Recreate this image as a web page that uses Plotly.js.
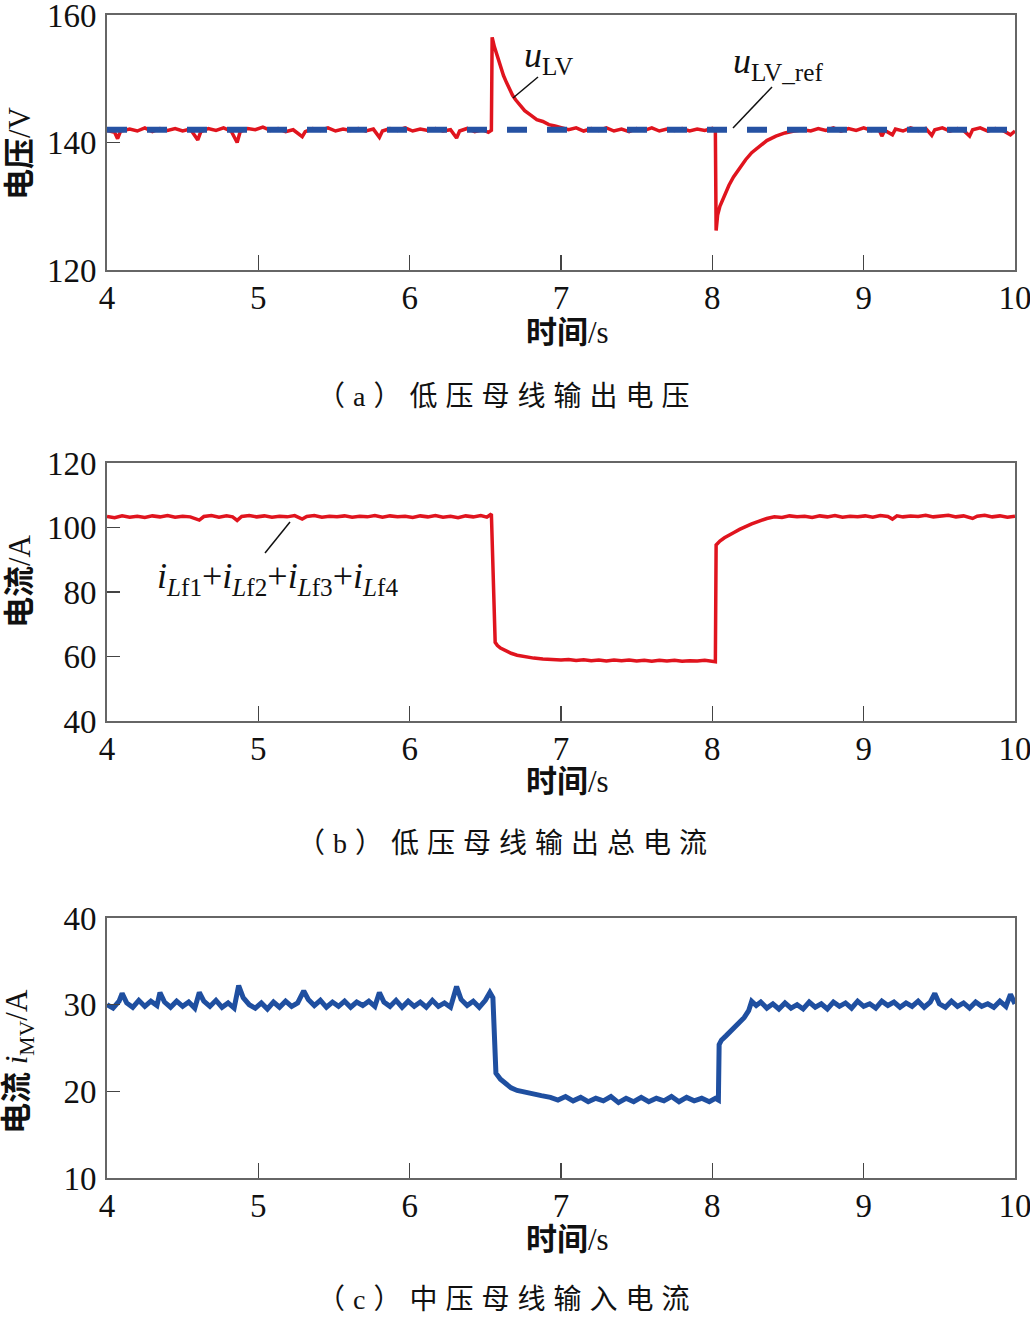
<!DOCTYPE html>
<html>
<head>
<meta charset="utf-8">
<script src="https://cdn.plot.ly/plotly-3.0.1.min.js"></script>
<style>
html,body{margin:0;padding:0;background:#fff;}
#chart{width:1030px;height:1322px;}
</style>
</head>
<body>
<div id="chart"></div>
<script>
// ---------- (a) low-voltage bus output voltage ----------
const tA = [4.00,4.05,4.07,4.09,4.15,4.20,4.25,4.30,4.35,4.40,4.45,4.50,4.55,4.60,4.62,4.67,4.72,4.77,4.82,4.86,4.88,4.93,4.98,5.03,5.08,5.13,5.18,5.23,5.29,5.31,5.36,5.41,5.46,5.51,5.56,5.61,5.66,5.71,5.76,5.80,5.82,5.87,5.92,5.97,6.02,6.07,6.12,6.17,6.22,6.27,6.31,6.33,6.38,6.43,6.48,6.52,6.54,6.545,6.56,6.58,6.60,6.62,6.64,6.66,6.68,6.70,6.73,6.76,6.80,6.84,6.88,6.92,6.96,7.00,7.05,7.10,7.15,7.20,7.25,7.30,7.35,7.40,7.45,7.50,7.55,7.60,7.65,7.70,7.75,7.80,7.85,7.90,7.95,8.00,8.02,8.025,8.035,8.05,8.08,8.11,8.14,8.18,8.22,8.26,8.31,8.36,8.42,8.48,8.54,8.60,8.65,8.70,8.75,8.80,8.85,8.90,8.95,9.00,9.05,9.10,9.12,9.14,9.19,9.21,9.26,9.31,9.36,9.41,9.45,9.47,9.52,9.57,9.62,9.66,9.70,9.72,9.77,9.82,9.87,9.92,9.97,10.00];
const uLV = [141.9,141.6,140.6,141.8,142.1,141.8,142.3,141.7,142.2,141.9,142.2,141.8,142.1,140.4,141.7,142.2,141.9,142.3,141.8,140.0,141.7,142.2,142.0,142.4,141.9,142.2,141.7,142.0,140.9,141.7,142.2,141.9,142.3,141.8,142.1,141.9,142.2,141.8,142.1,140.8,141.8,142.2,141.9,142.3,141.8,142.1,141.9,142.2,141.8,142.0,140.7,141.8,142.2,141.7,142.0,141.6,141.9,156.5,155.0,153.4,152.0,150.5,149.4,148.3,147.4,146.7,145.8,145.0,144.3,143.6,143.3,142.8,142.6,142.3,142.0,142.3,141.8,142.2,141.9,142.3,141.8,142.1,141.7,142.2,141.9,142.3,141.8,142.1,141.9,142.2,141.8,142.1,141.9,142.2,141.8,126.2,128.6,130.0,131.8,133.3,134.6,136.0,137.3,138.4,139.4,140.3,141.0,141.5,141.8,142.0,141.8,142.2,141.9,142.3,141.8,142.2,141.9,142.3,141.9,142.1,141.0,141.9,141.2,142.1,141.8,142.3,141.9,142.2,141.1,142.0,142.3,141.8,142.2,141.9,141.0,142.0,142.3,141.8,142.2,141.9,141.2,141.8];
const tRef = [4, 10];
const uRef = [142, 142];

// ---------- (b) low-voltage bus total output current ----------
const tB = [4.00,4.05,4.10,4.15,4.20,4.25,4.30,4.35,4.40,4.45,4.50,4.55,4.61,4.64,4.69,4.74,4.79,4.83,4.86,4.89,4.94,4.99,5.04,5.09,5.14,5.19,5.24,5.29,5.32,5.37,5.42,5.47,5.52,5.57,5.62,5.67,5.72,5.77,5.82,5.87,5.92,5.97,6.02,6.07,6.12,6.17,6.22,6.27,6.32,6.37,6.42,6.47,6.51,6.54,6.565,6.58,6.60,6.63,6.67,6.71,6.76,6.82,6.88,6.94,7.00,7.05,7.10,7.15,7.20,7.25,7.30,7.35,7.40,7.45,7.50,7.55,7.60,7.65,7.70,7.75,7.80,7.85,7.90,7.95,8.00,8.02,8.025,8.05,8.08,8.11,8.14,8.18,8.22,8.26,8.31,8.36,8.41,8.46,8.51,8.56,8.61,8.66,8.71,8.76,8.81,8.86,8.91,8.96,9.01,9.06,9.11,9.16,9.19,9.22,9.26,9.31,9.36,9.41,9.46,9.51,9.56,9.61,9.66,9.72,9.75,9.80,9.85,9.90,9.95,10.00];
const iSum = [103.4,103.0,103.6,103.2,103.5,103.1,103.6,103.3,103.7,103.2,103.5,103.3,102.3,103.4,103.7,103.2,103.6,103.3,102.2,103.4,103.7,103.3,103.6,103.2,103.5,103.3,103.7,102.6,103.4,103.7,103.2,103.5,103.3,103.6,103.2,103.5,103.3,103.7,103.2,103.6,103.3,103.5,103.1,103.6,103.3,103.7,103.2,103.5,103.0,103.6,103.3,103.7,103.2,104.2,64.4,63.4,62.6,61.8,61.0,60.4,59.9,59.5,59.2,59.0,58.9,59.1,58.8,59.0,58.7,58.9,58.6,58.9,58.7,58.9,58.6,58.8,58.5,58.8,58.6,58.8,58.5,58.7,58.6,58.8,58.5,58.4,94.6,95.8,96.8,97.7,98.4,99.4,100.3,101.1,102.0,102.8,103.3,103.1,103.6,103.3,103.5,103.1,103.6,103.3,103.7,103.2,103.5,103.3,103.6,103.2,103.7,103.4,102.6,103.6,103.3,103.6,103.4,103.8,103.3,103.5,103.8,103.3,103.6,102.8,103.5,103.8,103.3,103.6,103.2,103.5];

// ---------- (c) medium-voltage bus input current ----------
const tC = [4.00,4.04,4.08,4.10,4.13,4.17,4.21,4.25,4.29,4.33,4.35,4.38,4.42,4.46,4.50,4.54,4.58,4.61,4.64,4.68,4.72,4.76,4.80,4.84,4.87,4.90,4.94,4.98,5.02,5.06,5.10,5.14,5.18,5.22,5.26,5.30,5.33,5.37,5.41,5.45,5.49,5.53,5.57,5.61,5.65,5.69,5.73,5.77,5.80,5.83,5.87,5.91,5.95,5.99,6.03,6.07,6.11,6.15,6.19,6.23,6.27,6.31,6.34,6.38,6.42,6.46,6.50,6.53,6.55,6.56,6.57,6.60,6.63,6.67,6.71,6.76,6.81,6.87,6.93,6.98,7.03,7.08,7.13,7.18,7.23,7.28,7.33,7.38,7.43,7.48,7.53,7.58,7.63,7.68,7.73,7.78,7.83,7.88,7.93,7.98,8.02,8.04,8.045,8.06,8.09,8.12,8.15,8.18,8.21,8.24,8.26,8.29,8.32,8.36,8.40,8.44,8.48,8.52,8.56,8.60,8.64,8.68,8.72,8.76,8.80,8.84,8.88,8.92,8.96,9.00,9.04,9.08,9.12,9.16,9.20,9.24,9.28,9.32,9.36,9.40,9.44,9.47,9.50,9.54,9.58,9.62,9.66,9.70,9.74,9.78,9.82,9.86,9.90,9.94,9.97,10.00];
const iMV = [30.0,29.6,30.4,31.3,30.2,29.7,30.5,29.8,30.4,29.9,31.4,30.3,29.7,30.4,29.8,30.3,29.6,31.4,30.4,29.8,30.5,29.7,30.2,29.6,32.2,30.8,30.0,29.6,30.2,29.5,30.3,29.7,30.4,29.8,30.2,31.6,30.6,29.9,30.5,29.7,30.3,29.8,30.4,29.7,30.3,29.9,30.4,29.8,31.4,30.3,29.8,30.5,29.7,30.4,29.8,30.3,29.7,30.5,29.8,30.2,29.7,32.1,30.6,29.9,30.4,29.7,30.5,31.4,30.8,23.5,22.1,21.4,20.9,20.4,20.1,19.9,19.6,19.5,19.3,19.0,19.4,18.9,19.3,18.8,19.2,18.9,19.4,18.7,19.2,18.8,19.3,18.8,19.2,18.9,19.4,18.8,19.3,18.9,19.2,18.8,19.2,19.0,25.4,25.9,26.4,26.9,27.5,27.9,28.5,29.3,30.4,29.9,30.3,29.6,30.1,29.5,30.2,29.6,30.0,29.5,30.3,29.7,30.1,29.5,30.3,29.8,30.2,29.6,30.4,29.8,30.1,29.6,30.4,29.9,30.3,29.7,30.2,29.8,30.4,29.7,30.3,31.3,30.1,29.7,30.4,29.8,30.2,29.6,30.3,29.8,30.1,29.7,30.4,29.8,31.2,30.1];

// ---------- tick labels ----------
const xTicks = [4,5,6,7,8,9,10];
const yTicksA = [120,140,160];
const yTicksB = [40,60,80,100,120];
const yTicksC = [10,20,30,40];

const W = 1030, H = 1322;
const px = x => x / W;
const py = y => 1 - y / H;

const RED = '#e0141e', BLUE = '#1f4fa0', REFBLUE = '#2652a3';
const NUMFONT = {family: 'Liberation Serif, Times New Roman, serif', size: 33, color: '#111'};
const MIX = 'Liberation Serif, Noto Sans CJK SC, serif';

function xax(anchor) {
  return {domain: [px(107), px(1015)], anchor: anchor, range: [4, 10], tickvals: xTicks,
    ticktext: xTicks.map(String), ticks: 'inside', ticklen: 15, tickwidth: 1.5, tickcolor: '#444',
    showline: true, mirror: true, linecolor: '#666', linewidth: 2, showgrid: false, zeroline: false,
    tickfont: NUMFONT, ticklabelstandoff: -3, ticklabeloverflow: 'allow', fixedrange: true};
}
function yax(anchor, top, bottom, range, vals) {
  return {domain: [py(bottom), py(top)], anchor: anchor, range: range, tickvals: vals,
    ticktext: vals.map(String), ticks: 'inside', ticklen: 13, tickwidth: 1.5, tickcolor: '#444',
    showline: true, mirror: true, linecolor: '#666', linewidth: 2, showgrid: false, zeroline: false,
    tickfont: NUMFONT, ticklabelstandoff: 2, ticklabeloverflow: 'allow', fixedrange: true};
}

const traces = [
  {x: tA, y: uLV, xaxis: 'x', yaxis: 'y', mode: 'lines', line: {color: RED, width: 3.5}},
  {x: tRef, y: uRef, xaxis: 'x', yaxis: 'y', mode: 'lines', line: {color: REFBLUE, width: 6, dash: '20px,20px'}},
  {x: tB, y: iSum, xaxis: 'x2', yaxis: 'y2', mode: 'lines', line: {color: RED, width: 3.5}},
  {x: tC, y: iMV, xaxis: 'x3', yaxis: 'y3', mode: 'lines', line: {color: BLUE, width: 5}}
];

function ann(x, y, text, size, extra) {
  return Object.assign({xref: 'paper', yref: 'paper', x: px(x), y: py(y), text: text,
    showarrow: false, xanchor: 'center', yanchor: 'middle',
    font: {family: MIX, size: size, color: '#111'}}, extra || {});
}

const annotations = [
  ann(567, 332, '<b>时间</b>/s', 31),
  ann(567, 781, '<b>时间</b>/s', 31),
  ann(567, 1239, '<b>时间</b>/s', 31),
  ann(19, 153, '<b>电压</b>/V', 31, {textangle: -90}),
  ann(19, 581, '<b>电流</b>/A', 31, {textangle: -90}),
  ann(19, 1062, '<b>电流</b> <i>i</i><sub>MV</sub>/A', 31, {textangle: -90}),
  ann(512, 396, '（a）低压母线输出电压', 28),
  ann(511, 843, '（b）低压母线输出总电流', 28),
  ann(512, 1299, '（c）中压母线输入电流', 28),
  ann(548, 58, '<i>u</i><sub>LV</sub>', 36),
  ann(778, 63, '<i>u</i><sub>LV_ref</sub>', 36),
  ann(277, 578, '<i>i</i><sub><i>L</i>f1</sub>+<i>i</i><sub><i>L</i>f2</sub>+<i>i</i><sub><i>L</i>f3</sub>+<i>i</i><sub><i>L</i>f4</sub>', 36)
];

function seg(x0, y0, x1, y1) {
  return {type: 'line', xref: 'paper', yref: 'paper', x0: px(x0), y0: py(y0), x1: px(x1), y1: py(y1),
    line: {color: '#111', width: 1.5}};
}
const shapes = [seg(538, 77, 513, 98), seg(772, 87, 733, 128), seg(265, 553, 290, 522)];

const layout = {
  width: W, height: H, margin: {l: 0, r: 0, t: 0, b: 0},
  paper_bgcolor: '#fff', plot_bgcolor: '#fff', showlegend: false,
  xaxis: xax('y'), yaxis: yax('x', 15, 270, [120, 160], yTicksA),
  xaxis2: xax('y2'), yaxis2: yax('x2', 463, 721, [40, 120], yTicksB),
  xaxis3: xax('y3'), yaxis3: yax('x3', 918, 1178, [10, 40], yTicksC),
  annotations: annotations, shapes: shapes
};

Plotly.newPlot('chart', traces, layout, {staticPlot: true}).then(() => {
  document.querySelectorAll('.annotation-text').forEach(el => {
    if (el.textContent.startsWith('（')) {
      el.style.letterSpacing = '8px';
      el.setAttribute('transform', 'translate(-5,0)');
    }
  });
});
</script>
</body>
</html>
